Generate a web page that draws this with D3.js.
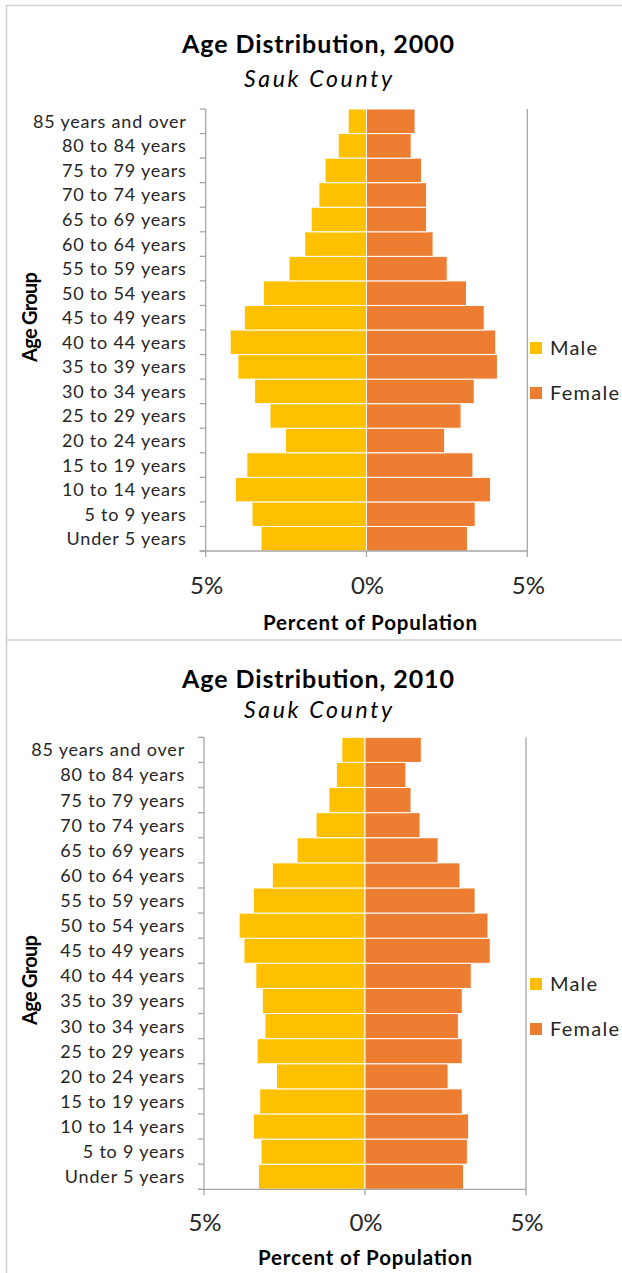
<!DOCTYPE html>
<html>
<head>
<meta charset="utf-8">
<script src="https://cdn.jsdelivr.net/npm/d3@7"></script>
<style>
  html, body { margin: 0; padding: 0; background: #fff; }
  svg { display: block; }
  text { font-family: Lato, "Open Sans", sans-serif; }
</style>
</head>
<body>
<svg id="chart" width="622" height="1273"></svg>
<script>
// Age groups, youngest first (drawn bottom to top)
const ageGroups = [
  "Under 5 years", "5 to 9 years", "10 to 14 years", "15 to 19 years",
  "20 to 24 years", "25 to 29 years", "30 to 34 years", "35 to 39 years",
  "40 to 44 years", "45 to 49 years", "50 to 54 years", "55 to 59 years",
  "60 to 64 years", "65 to 69 years", "70 to 74 years", "75 to 79 years",
  "80 to 84 years", "85 years and over"
];

// Percent of total population, Sauk County
const male2000   = [3.28, 3.56, 4.08, 3.72, 2.52, 3.00, 3.48, 4.00, 4.24, 3.80, 3.21, 2.41, 1.92, 1.72, 1.48, 1.29, 0.88, 0.57];
const female2000 = [3.14, 3.38, 3.86, 3.31, 2.43, 2.94, 3.35, 4.07, 4.02, 3.66, 3.11, 2.51, 2.07, 1.87, 1.87, 1.71, 1.39, 1.51];
const male2010   = [3.31, 3.23, 3.47, 3.27, 2.75, 3.35, 3.11, 3.19, 3.39, 3.76, 3.91, 3.47, 2.88, 2.11, 1.52, 1.12, 0.89, 0.72];
const female2010 = [3.06, 3.18, 3.22, 3.02, 2.58, 3.02, 2.90, 3.02, 3.30, 3.89, 3.82, 3.42, 2.95, 2.27, 1.71, 1.43, 1.27, 1.75];

const xTickValues = [-5, 0, 5];
const xTickLabels = ["5%", "0%", "5%"];
const seriesNames = ["Male", "Female"];
const seriesColors = ["#FFC000", "#ED7D31"];

const svg = d3.select("#chart");
const axisGray = "#a6a6a6";
const textColor = "#262626";

// Panel frame lines
svg.append("line").attr("x1", 6.5).attr("x2", 6.5).attr("y1", 5).attr("y2", 1273)
  .attr("stroke", "#d0d0d0").attr("stroke-width", 1.5);
svg.append("line").attr("x1", 6).attr("x2", 622).attr("y1", 5.5).attr("y2", 5.5)
  .attr("stroke", "#d0d0d0").attr("stroke-width", 1.5);
svg.append("line").attr("x1", 6).attr("x2", 622).attr("y1", 640).attr("y2", 640)
  .attr("stroke", "#d0d0d0").attr("stroke-width", 1.5);

function drawPyramid(cfg) {
  const { year, male, female, plot, titleY, subY, xTickY, xTitleY, xTitleX, yTitleCy, legendY } = cfg;
  const g = svg.append("g");

  const x = d3.scaleLinear().domain([-5, 5]).range([plot.left, plot.right]);
  const y = d3.scaleBand().domain(ageGroups.slice().reverse())
    .range([plot.top, plot.bottom]).paddingInner(0).paddingOuter(0);

  // Titles
  g.append("text").attr("x", 318).attr("y", titleY).attr("text-anchor", "middle")
    .attr("font-size", 25).attr("font-weight", "bold").attr("fill", "#000")
    .attr("textLength", 272).attr("lengthAdjust", "spacing")
    .text(`Age Distribution, ${year}`);
  g.append("text").attr("x", 318).attr("y", subY).attr("text-anchor", "middle")
    .attr("font-size", 23).attr("font-style", "italic").attr("fill", "#000")
    .attr("textLength", 148).attr("lengthAdjust", "spacing")
    .text("Sauk County");

  // Vertical gridline at +5%
  g.append("line").attr("x1", x(5)).attr("x2", x(5))
    .attr("y1", plot.top).attr("y2", plot.bottom)
    .attr("stroke", axisGray).attr("stroke-width", 1.3);

  // Bars
  const rows = ageGroups.map((a, i) => ({ age: a, m: male[i], f: female[i] }));
  g.selectAll("rect.male").data(rows).join("rect").attr("class", "male")
    .attr("x", d => x(-d.m)).attr("width", d => x(0) - x(-d.m))
    .attr("y", d => y(d.age)).attr("height", y.bandwidth())
    .attr("fill", seriesColors[0]).attr("stroke", "#fff").attr("stroke-width", 1);
  g.selectAll("rect.female").data(rows).join("rect").attr("class", "female")
    .attr("x", x(0)).attr("width", d => x(d.f) - x(0))
    .attr("y", d => y(d.age)).attr("height", y.bandwidth())
    .attr("fill", seriesColors[1]).attr("stroke", "#fff").attr("stroke-width", 1);

  // Y axis: line at -5% with ticks on category boundaries
  const yAxis = g.append("g");
  yAxis.append("line").attr("x1", x(-5)).attr("x2", x(-5))
    .attr("y1", plot.top).attr("y2", plot.bottom)
    .attr("stroke", axisGray).attr("stroke-width", 1.3);
  const bounds = ageGroups.map(a => y(a)).concat([plot.bottom]);
  yAxis.selectAll("line.tick").data(bounds).join("line").attr("class", "tick")
    .attr("x1", x(-5) - 6).attr("x2", x(-5)).attr("y1", d => d).attr("y2", d => d)
    .attr("stroke", axisGray).attr("stroke-width", 1.3);
  yAxis.selectAll("text").data(ageGroups).join("text")
    .attr("x", plot.left - 19).attr("y", d => y(d) + y.bandwidth() / 2)
    .attr("dy", "0.36em").attr("text-anchor", "end")
    .attr("font-size", 18).attr("letter-spacing", 0.8)
    .attr("fill", textColor).text(d => d);

  // X axis
  const xAxis = g.append("g");
  xAxis.append("line").attr("x1", x(-5) - 6).attr("x2", x(5))
    .attr("y1", plot.bottom).attr("y2", plot.bottom)
    .attr("stroke", axisGray).attr("stroke-width", 1.3);
  xAxis.selectAll("line.tick").data(xTickValues).join("line").attr("class", "tick")
    .attr("x1", d => x(d)).attr("x2", d => x(d))
    .attr("y1", plot.bottom).attr("y2", plot.bottom + 6)
    .attr("stroke", axisGray).attr("stroke-width", 1.3);
  xAxis.selectAll("text").data(xTickValues).join("text")
    .attr("x", d => x(d) + 1).attr("y", xTickY).attr("text-anchor", "middle")
    .attr("font-size", 24).attr("fill", textColor)
    .text((d, i) => xTickLabels[i]);

  // Axis titles
  g.append("text").attr("x", xTitleX).attr("y", xTitleY).attr("text-anchor", "middle")
    .attr("font-size", 20.5).attr("font-weight", "bold").attr("fill", "#000")
    .attr("textLength", 214).attr("lengthAdjust", "spacing")
    .text("Percent of Population");
  g.append("text")
    .attr("transform", `translate(37,${yTitleCy}) rotate(-90)`)
    .attr("text-anchor", "middle")
    .attr("font-size", 20).attr("font-weight", "bold").attr("fill", "#000")
    .attr("textLength", 90).attr("lengthAdjust", "spacing")
    .text("Age Group");

  // Legend
  const legendWidths = [47, 69];
  const leg = g.append("g").selectAll("g").data(seriesNames).join("g")
    .attr("transform", (d, i) => `translate(530,${legendY[i]})`);
  leg.append("rect").attr("x", 0).attr("y", -6).attr("width", 12).attr("height", 12)
    .attr("fill", (d, i) => seriesColors[i]);
  leg.append("text").attr("x", 20).attr("y", 0).attr("dy", "0.36em")
    .attr("font-size", 20).attr("fill", textColor)
    .attr("textLength", (d, i) => legendWidths[i]).attr("lengthAdjust", "spacing")
    .text(d => d);
}

drawPyramid({
  year: 2000, male: male2000, female: female2000,
  plot: { left: 205.7, right: 527.3, top: 109, bottom: 551 },
  titleY: 53, subY: 87, xTickY: 594, xTitleY: 630, xTitleX: 370,
  yTitleCy: 317, legendY: [348, 393]
});

drawPyramid({
  year: 2010, male: male2010, female: female2010,
  plot: { left: 204, right: 526, top: 737.3, bottom: 1189.3 },
  titleY: 687.5, subY: 718, xTickY: 1231, xTitleY: 1265, xTitleX: 365,
  yTitleCy: 980, legendY: [984, 1029]
});
</script>
</body>
</html>
